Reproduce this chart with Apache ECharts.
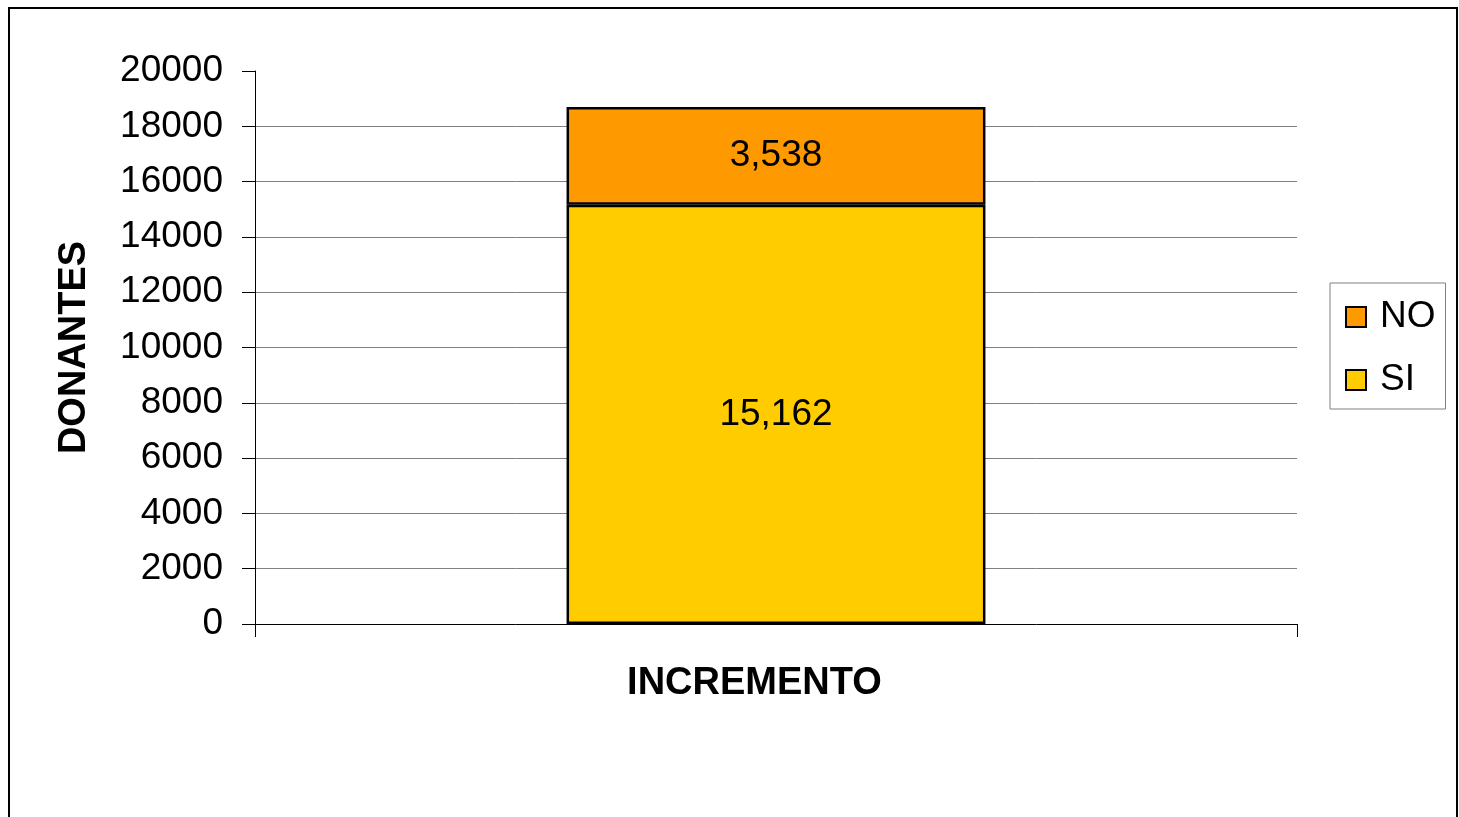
<!DOCTYPE html>
<html>
<head>
<meta charset="utf-8">
<title>DONANTES</title>
<script src="https://cdn.jsdelivr.net/npm/echarts@6/dist/echarts.min.js"></script>
<style>
html,body{margin:0;padding:0;background:#fff;}
#chart{width:1459px;height:817px;}
</style>
</head>
<body>
<div id="chart"></div>
<script>
// datos
var categorias = [''];
var serieNombres = ['SI', 'NO'];
var valoresSI = [15162];
var valoresNO = [3538];
var colores = ['#FFCC00', '#FF9900'];

var fuente = '"Liberation Sans", Arial, sans-serif';

function formato(p){
	return Number(p.value).toLocaleString('en-US');
}

var myChart = echarts.init(document.getElementById('chart'));
var option = {
	backgroundColor: '#fff',
	animation: false,
	textStyle: { fontFamily: fuente },
	graphic: [{
		type: 'rect',
		shape: { x: 9, y: 8, width: 1448, height: 840 },
		style: { fill: 'none', stroke: '#000', lineWidth: 2 },
		z: -1
	}],
	grid: { left: 255, right: 162, top: 71, bottom: 193 },
	legend: {
		orient: 'vertical',
		left: 1330,
		top: 283,
		data: ['NO', 'SI'],
		padding: [14, 10, 9, 15],
		itemWidth: 20,
		itemHeight: 20,
		itemGap: 23,
		backgroundColor: '#fff',
		borderColor: '#808080',
		borderWidth: 1,
		icon: 'rect',
		textStyle: { fontSize: 37, color: '#000', lineHeight: 40, padding: [0, 0, 0, 9], fontFamily: fuente }
	},
	xAxis: {
		type: 'category',
		data: categorias,
		name: 'INCREMENTO',
		nameLocation: 'middle',
		nameGap: 41,
		nameTextStyle: { fontSize: 38, fontWeight: 'bold', color: '#000', padding: [0, 43, 0, 0], fontFamily: fuente },
		axisLine: { lineStyle: { color: '#000', width: 1 } },
		axisTick: { show: true, length: 13, lineStyle: { color: '#000' } },
		axisLabel: { show: false }
	},
	yAxis: {
		type: 'value',
		min: 0,
		max: 20000,
		interval: 2000,
		name: 'DONANTES',
		nameLocation: 'middle',
		nameGap: 161,
		nameTextStyle: { fontSize: 38, fontWeight: 'bold', color: '#000', fontFamily: fuente },
		axisLine: { show: true, lineStyle: { color: '#000', width: 1 } },
		axisTick: { show: true, length: 13, lineStyle: { color: '#000' } },
		axisLabel: { fontSize: 37, color: '#000', margin: 32, fontFamily: fuente, formatter: function(v){ return String(v); } },
		splitLine: { show: true, showMinLine: false, showMaxLine: false, lineStyle: { color: '#808080', width: 1 } }
	},
	series: [{
		name: serieNombres[0],
		type: 'bar',
		stack: 'total',
		data: valoresSI,
		barWidth: '40.2%',
		itemStyle: { color: colores[0], borderColor: '#000', borderWidth: 2.5 },
		label: { show: true, position: 'inside', fontSize: 37, color: '#000', formatter: formato, fontFamily: fuente }
	}, {
		name: serieNombres[1],
		type: 'bar',
		stack: 'total',
		data: valoresNO,
		barWidth: '40.2%',
		itemStyle: { color: colores[1], borderColor: '#000', borderWidth: 2.5 },
		label: { show: true, position: 'inside', fontSize: 37, color: '#000', formatter: formato, fontFamily: fuente }
	}]
};
myChart.setOption(option);
</script>
</body>
</html>
